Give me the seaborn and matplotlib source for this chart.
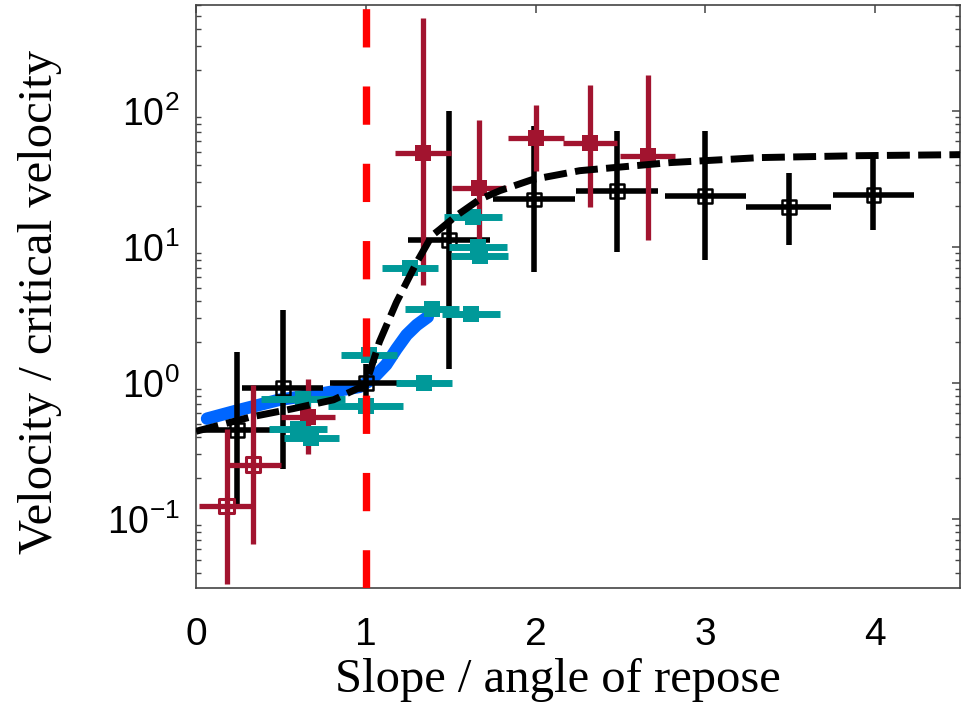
import numpy as np
import pandas as pd
import matplotlib
matplotlib.use("Agg")
import matplotlib.pyplot as plt
import seaborn as sns

# ---------------- data ----------------
# black series (open squares, x and y error bars)
blk_x = [0.24, 0.51, 1.0, 1.49, 1.99, 2.48, 3.0, 3.49, 3.99]
blk_y = [0.45, 0.92, 1.0, 11.2, 22.3, 25.9, 23.8, 19.5, 24.2]
blk_xerr = [0.22, 0.24, 0.21, 0.24, 0.24, 0.24, 0.24, 0.25, 0.24]
blk_ylo = [0.119, 0.234, 0.535, 1.27, 6.5, 9.1, 7.96, 10.3, 13.2]
blk_yhi = [1.69, 3.43, 1.38, 100.0, 77.6, 71.3, 71.3, 35.1, 47.6]

# dark red series
red_x = [0.18, 0.335, 0.66, 1.335, 1.665, 2.0, 2.32, 2.66]
red_y = [0.124, 0.25, 0.56, 49.3, 27.3, 63.4, 58.3, 46.8]
red_xerr = [0.16, 0.165, 0.16, 0.165, 0.16, 0.165, 0.16, 0.16]
red_ylo = [0.033, 0.065, 0.30, 5.2, 8.1, 36.0, 19.5, 11.3]
red_yhi = [0.46, 0.97, 1.07, 480.0, 86.0, 110.0, 155.0, 184.0]
red_open = [True, True, False, False, False, False, False, False]

# teal series (horizontal error bars only)
teal_x = [0.63, 1.0, 0.60, 0.68, 1.02, 1.34, 1.26, 1.39, 1.62, 1.66, 1.67, 1.63]
teal_y = [0.76, 0.67, 0.46, 0.39, 1.6, 1.0, 7.0, 3.48, 3.2, 10.0, 8.6, 16.7]
teal_xerr = [0.25, 0.22, 0.17, 0.16, 0.165, 0.165, 0.165, 0.16, 0.17, 0.17, 0.17, 0.17]

# blue thick curve
blue_x = [0.065, 0.26, 0.49, 0.73, 0.965, 1.04, 1.12, 1.18, 1.24, 1.30, 1.365]
blue_y = [0.545, 0.634, 0.75, 0.83, 0.935, 1.07, 1.36, 1.77, 2.25, 2.66, 3.05]

# black dashed model curve
fit_x = [0.0, 0.32, 0.57, 0.81, 1.0, 1.08, 1.18, 1.30, 1.39, 1.435, 1.535,
         1.67, 1.79, 1.98, 2.26, 2.79, 3.32, 3.91, 4.5]
fit_y = [0.44, 0.56, 0.645, 0.75, 0.97, 2.0, 3.9, 7.7, 12.1, 13.4, 17.0,
         22.3, 25.9, 31.2, 36.3, 41.6, 45.3, 46.8, 47.6]

x_ticks = [0, 1, 2, 3, 4]
repose_x = 1.0

# ---------------- style ----------------
sns.set_theme(style="white")
plt.rcParams["font.family"] = ["Liberation Sans", "DejaVu Sans"]
plt.rcParams["mathtext.fontset"] = "custom"
plt.rcParams["mathtext.rm"] = "Liberation Sans"
plt.rcParams["mathtext.it"] = "Liberation Sans:italic"
plt.rcParams["mathtext.bf"] = "Liberation Sans:bold"
plt.rcParams["axes.unicode_minus"] = False

RED = "#A2142F"
TEAL = "#009999"
BLUE = "#0066FF"

fig = plt.figure(figsize=(9.68, 7.04), dpi=100)
ax = fig.add_axes([0.2025, 0.1648, 0.7893, 0.8281])

# blue curve
sns.lineplot(x=blue_x, y=blue_y, ax=ax, color=BLUE, lw=9, sort=False,
             estimator=None, solid_capstyle="round", zorder=1)

# black error bars
bx = np.array(blk_x); by = np.array(blk_y)
ax.errorbar(bx, by, xerr=blk_xerr,
            yerr=[by - np.array(blk_ylo), np.array(blk_yhi) - by],
            fmt="none", ecolor="black", elinewidth=4.0, capsize=0, zorder=2)
sns.scatterplot(x=blk_x, y=blk_y, ax=ax, marker="s", s=100,
                facecolor="none", edgecolor="black", linewidth=1.8, zorder=3)

# red error bars
rx = np.array(red_x); ry = np.array(red_y)
ax.errorbar(rx, ry, xerr=red_xerr,
            yerr=[ry - np.array(red_ylo), np.array(red_yhi) - ry],
            fmt="none", ecolor=RED, elinewidth=3.8, capsize=0, zorder=4)
ro = np.array(red_open)
sns.scatterplot(x=rx[ro], y=ry[ro], ax=ax, marker="s", s=110,
                facecolor="none", edgecolor=RED, linewidth=2.2, zorder=5)
sns.scatterplot(x=rx[~ro], y=ry[~ro], ax=ax, marker="s", s=120,
                color=RED, edgecolor=RED, linewidth=0, zorder=5)

# teal
ax.errorbar(teal_x, teal_y, xerr=teal_xerr, fmt="none", ecolor=TEAL,
            elinewidth=5, capsize=0, zorder=6)
sns.scatterplot(x=teal_x, y=teal_y, ax=ax, marker="s", s=130,
                color=TEAL, edgecolor=TEAL, linewidth=0, zorder=7)

# dashed fit
sns.lineplot(x=fit_x, y=fit_y, ax=ax, color="black", lw=5.0, sort=False,
             estimator=None, zorder=8)
ax.lines[-1].set_dashes((3.3, 1.2))

# angle of repose line
ax.axvline(repose_x, color="#FF0000", lw=5.3, zorder=9, dash_capstyle="butt")
ax.lines[-1].set_dashes((5.2, 5.3))

ax.set_yscale("log")
ax.set_xlim(0, 4.5)
ax.set_ylim(0.031, 600)
ax.set_xticks(x_ticks)
ax.set_xticklabels([str(t) for t in x_ticks])
ax.minorticks_off()
ax.yaxis.set_minor_locator(matplotlib.ticker.LogLocator(base=10, subs=np.arange(2, 10)))
ax.yaxis.set_minor_formatter(matplotlib.ticker.NullFormatter())

for s in ax.spines.values():
    s.set_color("#444444")
    s.set_linewidth(1.2)
    s.set_visible(True)

ax.tick_params(axis="both", which="major", direction="in", length=6, width=1.1,
               color="#444444", top=True, right=True, labelcolor="#000000")
ax.tick_params(axis="x", which="major", pad=21, labelsize=28)
ax.tick_params(axis="y", which="major", pad=12, labelsize=27)
ax.tick_params(axis="y", which="minor", direction="in", length=3.5, width=1.0,
               color="#444444", left=True, right=True)

ax.set_xlabel("Slope / angle of repose", fontsize=35, color="black",
              family=["Liberation Serif", "DejaVu Serif"], va="center")
ax.set_ylabel("Velocity / critical velocity", fontsize=35, color="black",
              family=["Liberation Serif", "DejaVu Serif"], va="center")
ax.xaxis.set_label_coords(0.474, -0.158)
ax.yaxis.set_label_coords(-0.204, 0.49)
ax.grid(False)
ax.set_facecolor("white")

fig.savefig("out.png", dpi=100)
